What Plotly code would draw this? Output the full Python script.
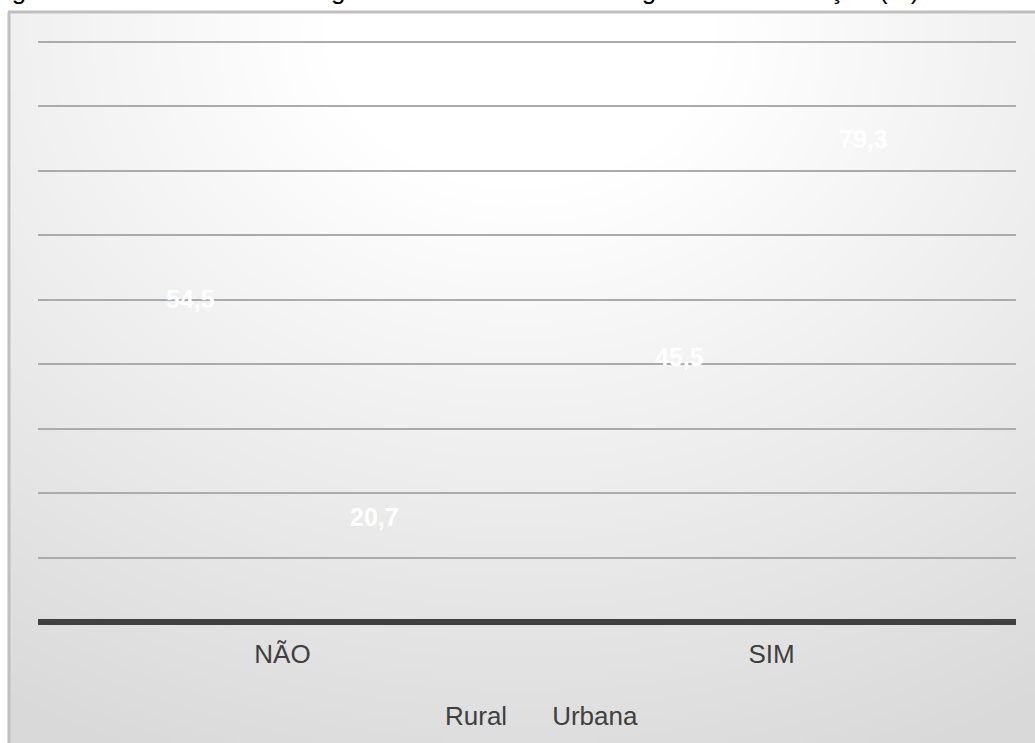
import base64
import struct
import zlib

import numpy as np
import plotly.graph_objects as go

# --- data -------------------------------------------------------------
categorias = ["NÃO", "SIM"]
rural = [54.5, 45.5]
urbana = [20.7, 79.3]
series = [("Rural", rural, -92), ("Urbana", urbana, 92)]
titulo = "Figura 6 – Fornecimento de água tratada nas escolas segundo a localização (%)"

# --- page geometry (pixels) -------------------------------------------
W, H = 1035, 743
L, R, T, B = 38, 19, 40, 121
PW, PH = W - L - R, H - T - B
YMAX = 90 * PH / 580  # keeps the 90 gridline 2px inside the plot top


def px_x(p):
    return (p - L) / PW


def px_y(p):
    return (H - B - p) / PH


def fmt(v):
    return f"{v:.1f}".replace(".", ",")


def png_uri(rgb):
    """Encode an HxWx3 uint8 array as a PNG data URI."""
    h, w, _ = rgb.shape
    raw = b"".join(b"\x00" + rgb[i].tobytes() for i in range(h))

    def chunk(tag, data):
        c = struct.pack(">I", len(data)) + tag + data
        return c + struct.pack(">I", zlib.crc32(tag + data) & 0xFFFFFFFF)

    png = b"\x89PNG\r\n\x1a\n"
    png += chunk(b"IHDR", struct.pack(">IIBBBBB", w, h, 8, 2, 0, 0, 0))
    png += chunk(b"IDAT", zlib.compress(raw, 9))
    png += chunk(b"IEND", b"")
    return "data:image/png;base64," + base64.b64encode(png).decode()


# radial backdrop: white near the top centre fading to light grey
bx0, by0 = 10, 13
gw, gh = (W - bx0) // 4, (H - by0) // 4
xs = np.linspace(bx0, W, gw)
ys = np.linspace(by0, H, gh)
X, Y = np.meshgrid(xs, ys)
d = np.sqrt((X - 520) ** 2 + ((Y - 30) / 0.8) ** 2)
t = np.clip((d - 200) / 800, 0, 1)
g = (255 - t * 38).astype(np.uint8)
backdrop = png_uri(np.dstack([g, g, g]))

FONT = "Arial, Liberation Sans, sans-serif"

fig = go.Figure()
for nome, valores, _ in series:
    fig.add_trace(go.Bar(
        name=nome, x=categorias, y=valores,
        marker=dict(color="rgba(0,0,0,0)", line=dict(width=0)),
        hoverinfo="skip",
    ))

# value labels placed just inside the top of each bar
annotations = []
for nome, valores, dx in series:
    for c, v in zip(categorias, valores):
        annotations.append(dict(
            x=c, y=v, xref="x", yref="y", text=f"<b>{fmt(v)}</b>",
            showarrow=False, xshift=dx, yshift=-28, yanchor="middle",
            font=dict(family=FONT, size=25, color="white"),
        ))

annotations.append(dict(
    x=px_x(-12), y=px_y(7), xref="paper", yref="paper", text=titulo,
    showarrow=False, xanchor="left", yanchor="bottom",
    font=dict(family=FONT, size=26, color="black"),
))

fig.update_layout(
    width=W, height=H,
    margin=dict(l=L, r=R, t=T, b=B, pad=0),
    paper_bgcolor="white",
    plot_bgcolor="rgba(0,0,0,0)",
    barmode="group", bargap=0.25, bargroupgap=0,
    font=dict(family=FONT, size=26, color="#404040"),
    xaxis=dict(
        showgrid=False, showline=False, zeroline=False,
        ticks="", ticklabelstandoff=14, automargin=False,
        tickfont=dict(family=FONT, size=26, color="#404040"),
    ),
    yaxis=dict(
        range=[0, YMAX], tickvals=list(range(0, 91, 10)),
        showticklabels=False, ticks="", automargin=False,
        showgrid=True, gridcolor="#ababab", gridwidth=2,
        zeroline=True, zerolinecolor="#404040", zerolinewidth=6,
        showline=False,
    ),
    showlegend=True,
    legend=dict(
        orientation="h", x=(524 / W), xanchor="center", xref="container",
        y=(H - 715) / H, yanchor="middle", yref="container",
        bgcolor="rgba(0,0,0,0)",
        font=dict(family=FONT, size=26, color="#404040"),
    ),
    images=[dict(
        source=backdrop, xref="paper", yref="paper",
        x=px_x(bx0), y=px_y(by0), sizex=(W - bx0) / PW, sizey=(H - by0) / PH,
        xanchor="left", yanchor="top", sizing="stretch", layer="below",
    )],
    shapes=[
        dict(type="line", xref="paper", yref="paper",
             x0=px_x(9), x1=px_x(9), y0=px_y(12), y1=px_y(H + 5),
             line=dict(color="#bfbfbf", width=3), layer="below"),
        dict(type="line", xref="paper", yref="paper",
             x0=px_x(8), x1=px_x(W + 5), y0=px_y(12), y1=px_y(12),
             line=dict(color="#bfbfbf", width=3), layer="below"),
    ],
    annotations=annotations,
)

fig.write_html("out.html")
